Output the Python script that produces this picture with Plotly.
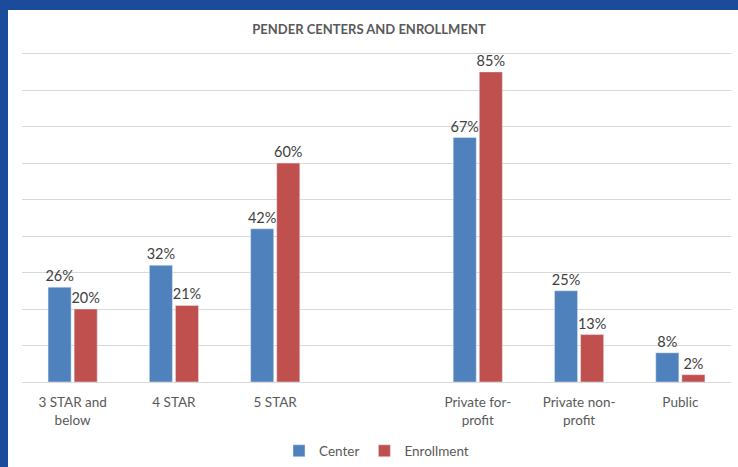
import plotly.graph_objects as go

categories = ["3 STAR and<br>below", "4 STAR", "5 STAR", " ", "Private for-<br>profit", "Private non-<br>profit", "Public"]
center = [26, 32, 42, None, 67, 25, 8]
enrollment = [20, 21, 60, None, 85, 13, 2]

def labels(vals):
    return [f"{v}%" if v is not None else "" for v in vals]

W, H = 738, 467
ml, mr, mt, mb = 22, 7, 50, 85
pw, ph = W - ml - mr, H - mt - mb

def px_x(p):
    return (p - ml) / pw

def px_y(p):
    return (H - mb - p) / ph

font_family = "Lato, Open Sans, sans-serif"

fig = go.Figure()
fig.add_trace(go.Bar(
    name="Center", x=categories, y=center, marker_color="#4F81BD",
    text=labels(center), textposition="outside", cliponaxis=False, constraintext="none",
    textfont=dict(size=14.5, color="#404040"),
))
fig.add_trace(go.Bar(
    name="Enrollment", x=categories, y=enrollment, marker_color="#C0504D",
    text=labels(enrollment), textposition="outside", cliponaxis=False, constraintext="none",
    textfont=dict(size=14.5, color="#404040"),
))

blue = "#1B4C9B"
shapes = [
    dict(type="rect", xref="paper", yref="paper", x0=px_x(0), x1=px_x(W), y0=px_y(10), y1=px_y(0),
         fillcolor=blue, line_width=0, layer="above"),
    dict(type="rect", xref="paper", yref="paper", x0=px_x(0), x1=px_x(8), y0=px_y(H), y1=px_y(0),
         fillcolor=blue, line_width=0, layer="above"),
]

fig.update_layout(
    width=W, height=H,
    margin=dict(l=ml, r=mr, t=mt, b=mb, pad=0, autoexpand=False),
    paper_bgcolor="white", plot_bgcolor="white",
    font=dict(family=font_family, size=13, color="#595959"),
    title=dict(text="<b>PENDER CENTERS AND ENROLLMENT</b>", x=0.5, xanchor="center",
               y=1 - 29 / H, yanchor="middle", font=dict(size=13, color="#595959")),
    barmode="group", bargap=0.485, bargroupgap=0.115,
    showlegend=True,
    legend=dict(orientation="h", x=0.5, xanchor="center", y=px_y(451), yanchor="middle",
                font=dict(size=13.5, color="#595959"), itemwidth=30, traceorder="normal"),
    shapes=shapes,
)
fig.update_xaxes(type="category", categoryorder="array", categoryarray=categories,
                 showgrid=False, showline=True, linecolor="#D9D9D9", linewidth=1,
                 ticks="", tickfont=dict(size=13.5, color="#595959"), fixedrange=True,
                 automargin=False, ticklabelstandoff=8)
fig.update_yaxes(range=[0, 91], tickvals=[10, 20, 30, 40, 50, 60, 70, 80, 90],
                 showgrid=True, gridcolor="#D9D9D9", gridwidth=1,
                 showticklabels=False, zeroline=False, showline=False, fixedrange=True,
                 automargin=False)

fig.write_html("out.html", config={"displayModeBar": False},
               post_script="document.body.style.margin='0';document.body.style.overflow='hidden';")
